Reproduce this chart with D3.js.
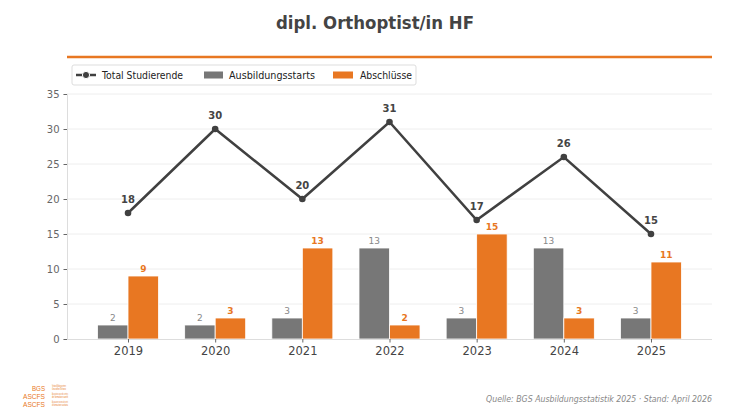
<!DOCTYPE html>
<html><head><meta charset="utf-8">
<script src="https://cdn.jsdelivr.net/npm/d3@7"></script>
<style>body{margin:0;background:#fff}svg{display:block;font-family:"DejaVu Sans",sans-serif}</style>
</head><body>
<svg id="c" width="750" height="413"></svg>
<script>
const years = ["2019","2020","2021","2022","2023","2024","2025"];
const totalStudierende = [18,30,20,31,17,26,15];
const ausbildungsstarts = [2,2,3,13,3,13,3];
const abschluesse = [9,3,13,2,15,3,11];
const yTicks = [0,5,10,15,20,25,30,35];

const svg = d3.select("#c");
const L = 67, R = 712, B = 339;
const x = d3.scaleLinear().domain([-0.7, 6.7]).range([L, R]);
const y = d3.scaleLinear().domain([0, 35]).range([B, 94]);
const bw = x(0.35) - x(0);
const grey = "#777777", orange = "#E87722", dark = "#404040";

// title
svg.append("text").attr("x", 375).attr("y", 29).attr("text-anchor", "middle")
  .attr("font-size", 18).attr("font-weight", "bold").attr("fill", "#444")
  .attr("textLength", 198).attr("lengthAdjust", "spacingAndGlyphs").text("dipl. Orthoptist/in HF");
svg.append("line").attr("x1", L).attr("x2", R).attr("y1", 57).attr("y2", 57)
  .attr("stroke", orange).attr("stroke-width", 2.5);

// grid
svg.append("g").selectAll("line").data(yTicks.slice(1)).join("line")
  .attr("x1", L).attr("x2", R).attr("y1", d => y(d)).attr("y2", d => y(d))
  .attr("stroke", "#eeeeee").attr("stroke-width", 1);

// y axis
const ya = svg.append("g").attr("transform", `translate(${L},0)`)
  .call(d3.axisLeft(y).tickValues(yTicks).tickSize(3.5).tickPadding(4));
ya.select(".domain").attr("stroke", "#dddddd");
ya.selectAll(".tick line").attr("stroke", "#666");
ya.selectAll("text").attr("font-size", 10).attr("fill", "#666").attr("font-family", "DejaVu Sans");

// bars
const bars = svg.append("g");
bars.selectAll(".g").data(ausbildungsstarts).join("rect")
  .attr("x", (d, i) => x(i) - bw).attr("width", bw)
  .attr("y", d => y(d)).attr("height", d => B - y(d))
  .attr("fill", grey).attr("stroke", "#fff").attr("stroke-width", 0.8);
bars.selectAll(".o").data(abschluesse).join("rect")
  .attr("x", (d, i) => x(i)).attr("width", bw)
  .attr("y", d => y(d)).attr("height", d => B - y(d))
  .attr("fill", orange).attr("stroke", "#fff").attr("stroke-width", 0.8);

// x axis
const xa = svg.append("g").attr("transform", `translate(0,${B})`)
  .call(d3.axisBottom(x).tickValues(d3.range(years.length)).tickFormat(i => years[i]).tickSize(3.5).tickPadding(4));
xa.select(".domain").attr("stroke", "#dddddd").attr("d", `M${L},0.5H${R}`);
xa.selectAll(".tick line").attr("stroke", "#666");
xa.selectAll("text").attr("font-size", 11.5).attr("fill", "#444").attr("font-family", "DejaVu Sans");

// bar labels
svg.append("g").selectAll("text").data(ausbildungsstarts).join("text")
  .attr("x", (d, i) => x(i) - bw / 2).attr("y", d => y(d) - 4).attr("text-anchor", "middle")
  .attr("font-size", 9).attr("fill", "#888").text(d => d);
svg.append("g").selectAll("text").data(abschluesse).join("text")
  .attr("x", (d, i) => x(i) + bw / 2).attr("y", d => y(d) - 4).attr("text-anchor", "middle")
  .attr("font-size", 9).attr("font-weight", "bold").attr("fill", orange).text(d => d);

// line
const line = d3.line().x((d, i) => x(i)).y(d => y(d));
svg.append("path").datum(totalStudierende).attr("d", line)
  .attr("fill", "none").attr("stroke", dark).attr("stroke-width", 2.5);
svg.append("g").selectAll("circle").data(totalStudierende).join("circle")
  .attr("cx", (d, i) => x(i)).attr("cy", d => y(d)).attr("r", 3.3).attr("fill", dark);
svg.append("g").selectAll("text").data(totalStudierende).join("text")
  .attr("x", (d, i) => x(i)).attr("y", d => y(d) - 10).attr("text-anchor", "middle")
  .attr("font-size", 10).attr("font-weight", "bold").attr("fill", "#444").text(d => d);

// legend
const lg = svg.append("g");
lg.append("rect").attr("x", 72).attr("y", 65).attr("width", 344).attr("height", 20).attr("rx", 2)
  .attr("fill", "#fff").attr("stroke", "#dddddd");
lg.append("line").attr("x1", 76).attr("x2", 96).attr("y1", 75).attr("y2", 75).attr("stroke", dark).attr("stroke-width", 2.5);
lg.append("circle").attr("cx", 86).attr("cy", 75).attr("r", 3.6).attr("fill", dark).attr("stroke", "#fff").attr("stroke-width", 1);
lg.append("text").attr("x", 102).attr("y", 79).attr("font-size", 10).attr("fill", "#222")
  .attr("textLength", 81).attr("lengthAdjust", "spacingAndGlyphs").text("Total Studierende");
lg.append("rect").attr("x", 204).attr("y", 71.5).attr("width", 19).attr("height", 7).attr("fill", grey);
lg.append("text").attr("x", 229).attr("y", 79).attr("font-size", 10).attr("fill", "#222")
  .attr("textLength", 86).attr("lengthAdjust", "spacingAndGlyphs").text("Ausbildungsstarts");
lg.append("rect").attr("x", 333).attr("y", 71.5).attr("width", 20).attr("height", 7).attr("fill", orange);
lg.append("text").attr("x", 360).attr("y", 79).attr("font-size", 10).attr("fill", "#222")
  .attr("textLength", 52).attr("lengthAdjust", "spacingAndGlyphs").text("Abschlüsse");

// source
svg.append("text").attr("x", 712).attr("y", 402).attr("text-anchor", "end")
  .attr("font-size", 8.5).attr("font-style", "italic").attr("fill", "#888")
  .attr("textLength", 226).attr("lengthAdjust", "spacingAndGlyphs")
  .text("Quelle: BGS Ausbildungsstatistik 2025 · Stand: April 2026");

// logo
const logo = svg.append("g").attr("fill", orange);
const logoMain = ["BGS", "ASCFS", "ASCFS"];
const logoSub = [["Verband Bildungszentren", "Gesundheit Schweiz"], ["Association suisse des centres", "de formation santé"], ["Associazione svizzera dei centri", "di formazione sanitaria"]];
logoMain.forEach((t, i) => {
  logo.append("text").attr("x", 45).attr("y", 391 + i * 8).attr("text-anchor", "end")
    .attr("font-size", 7.6).attr("font-family", "Liberation Sans Narrow, Liberation Sans, sans-serif")
    .attr("textLength", t.length === 3 ? 13 : 22).attr("lengthAdjust", "spacingAndGlyphs").text(t);
  logoSub[i].forEach((s, j) => {
    logo.append("text").attr("x", 52).attr("y", 387 + i * 8 + j * 3.3)
      .attr("font-size", 3).attr("font-family", "Liberation Sans, sans-serif")
      .attr("textLength", 14 + (i > 0 ? 2 : 0)).attr("lengthAdjust", "spacingAndGlyphs").text(s);
  });
});
</script>
</body></html>
